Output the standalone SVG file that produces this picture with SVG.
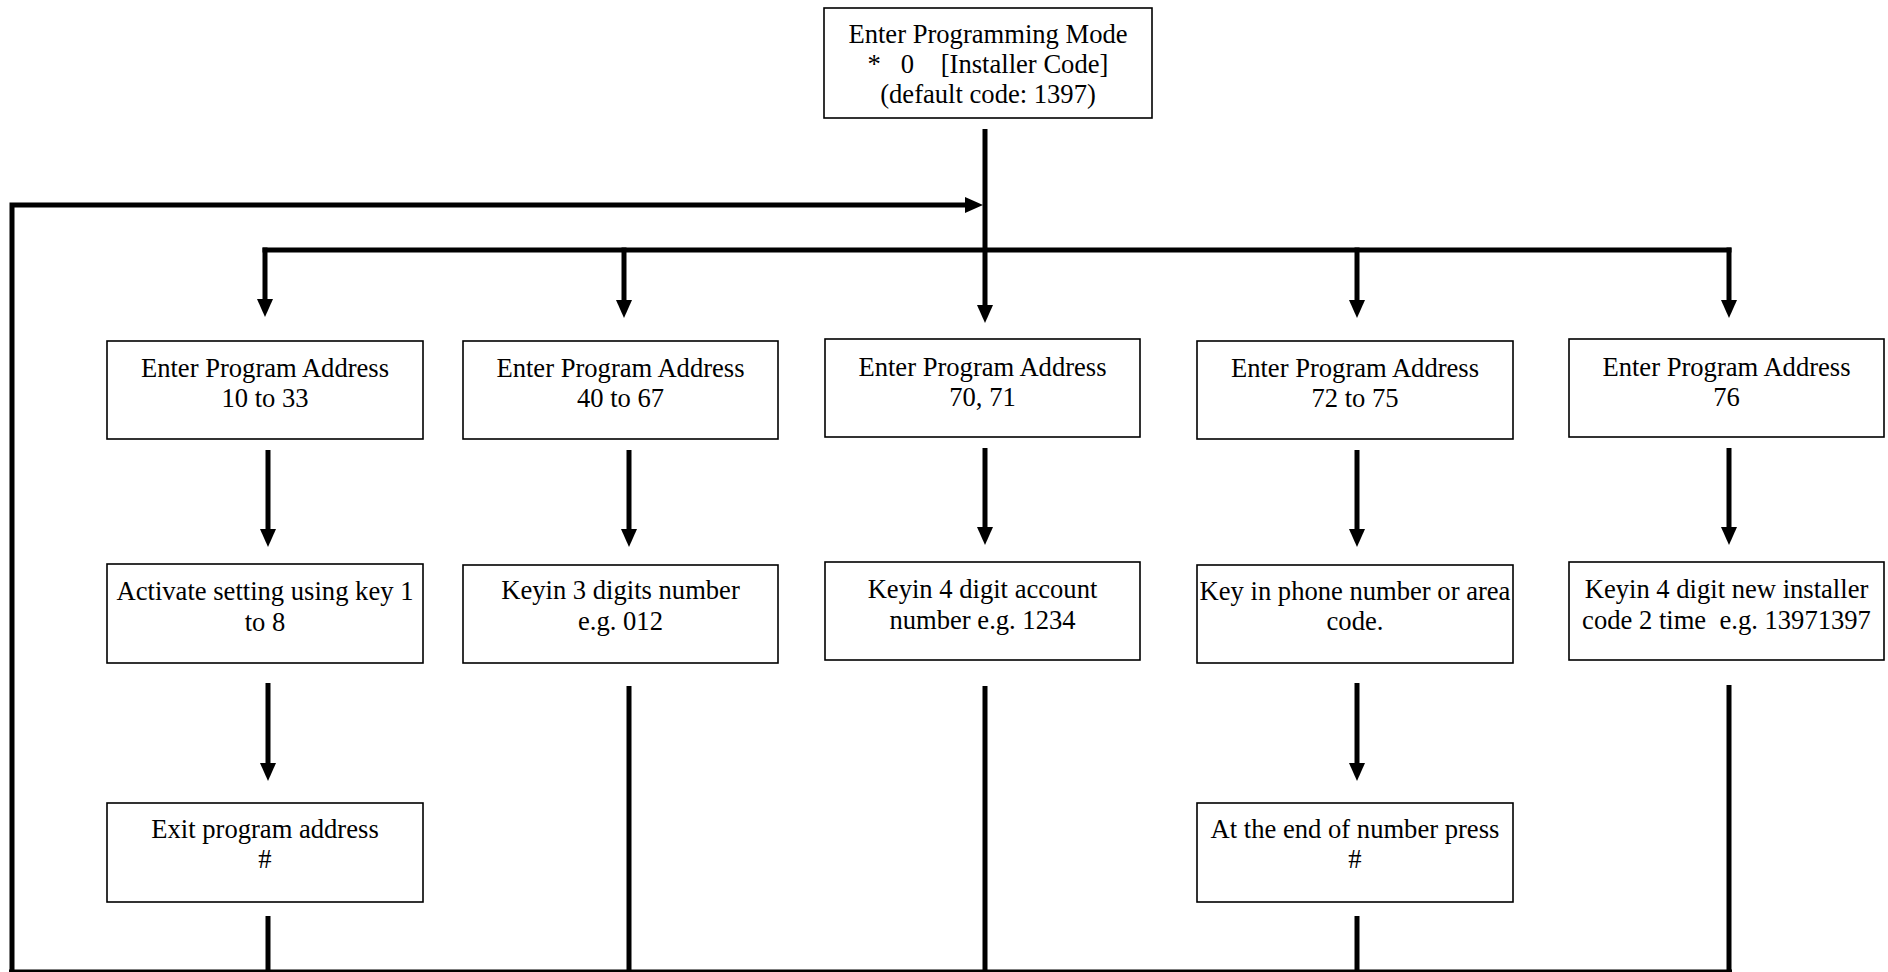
<svg xmlns="http://www.w3.org/2000/svg" width="1888" height="972" viewBox="0 0 1888 972">
<style>
.box{fill:#fff;stroke:#000;stroke-width:1.6}
.t{font-family:"Liberation Serif","Times New Roman",serif;font-size:26.6px;fill:#000;text-anchor:middle}
.ln{stroke:#000;stroke-width:5;fill:none}
</style>
<defs>
<marker id="ah" markerUnits="userSpaceOnUse" markerWidth="18" markerHeight="16" refX="0" refY="8" orient="auto" viewBox="0 0 18 16">
<path d="M0,0 L18,8 L0,16 Z" fill="#000"/>
</marker>
</defs>
<rect width="1888" height="972" fill="#fff"/>
<g id="connectors">
<line class="ln" x1="985" y1="129" x2="985" y2="305" marker-end="url(#ah)"/>
<polyline class="ln" points="12,972 12,205 965,205" marker-end="url(#ah)"/>
<line class="ln" x1="262.5" y1="250" x2="1731.5" y2="250"/>
<line class="ln" x1="265" y1="247.5" x2="265" y2="299" marker-end="url(#ah)"/>
<line class="ln" x1="624" y1="247.5" x2="624" y2="300" marker-end="url(#ah)"/>
<line class="ln" x1="1357" y1="247.5" x2="1357" y2="300" marker-end="url(#ah)"/>
<line class="ln" x1="1729" y1="247.5" x2="1729" y2="300" marker-end="url(#ah)"/>
<line class="ln" x1="268" y1="450" x2="268" y2="529" marker-end="url(#ah)"/>
<line class="ln" x1="629" y1="450" x2="629" y2="529" marker-end="url(#ah)"/>
<line class="ln" x1="985" y1="448" x2="985" y2="527" marker-end="url(#ah)"/>
<line class="ln" x1="1357" y1="450" x2="1357" y2="529" marker-end="url(#ah)"/>
<line class="ln" x1="1729" y1="448" x2="1729" y2="527" marker-end="url(#ah)"/>
<line class="ln" x1="268" y1="683" x2="268" y2="763" marker-end="url(#ah)"/>
<line class="ln" x1="1357" y1="683" x2="1357" y2="763" marker-end="url(#ah)"/>
<line class="ln" x1="629" y1="686" x2="629" y2="972"/>
<line class="ln" x1="985" y1="686" x2="985" y2="972"/>
<line class="ln" x1="1729" y1="685" x2="1729" y2="972"/>
<line class="ln" x1="268" y1="916" x2="268" y2="972"/>
<line class="ln" x1="1357" y1="916" x2="1357" y2="972"/>
<line class="ln" x1="9" y1="972" x2="1732" y2="972"/>
</g>
<g id="n-start">
<rect class="box" x="824" y="8" width="328" height="110"/>
<text class="t" x="988" y="43">Enter Programming Mode</text>
<text class="t" x="988" y="73" xml:space="preserve">*   0    [Installer Code]</text>
<text class="t" x="988" y="103">(default code: 1397)</text>
</g>
<g id="n-a1">
<rect class="box" x="107" y="341" width="316" height="98"/>
<text class="t" x="265" y="377">Enter Program Address</text>
<text class="t" x="265" y="407">10 to 33</text>
</g>
<g id="n-b1">
<rect class="box" x="463" y="341" width="315" height="98"/>
<text class="t" x="620.5" y="377">Enter Program Address</text>
<text class="t" x="620.5" y="407">40 to 67</text>
</g>
<g id="n-c1">
<rect class="box" x="825" y="339" width="315" height="98"/>
<text class="t" x="982.5" y="375.5">Enter Program Address</text>
<text class="t" x="982.5" y="405.5">70, 71</text>
</g>
<g id="n-d1">
<rect class="box" x="1197" y="341" width="316" height="98"/>
<text class="t" x="1355" y="377">Enter Program Address</text>
<text class="t" x="1355" y="407">72 to 75</text>
</g>
<g id="n-e1">
<rect class="box" x="1569" y="339" width="315" height="98"/>
<text class="t" x="1726.5" y="375.5">Enter Program Address</text>
<text class="t" x="1726.5" y="405.5">76</text>
</g>
<g id="n-a2">
<rect class="box" x="107" y="564" width="316" height="99"/>
<text class="t" x="265" y="600">Activate setting using key 1</text>
<text class="t" x="265" y="631">to 8</text>
</g>
<g id="n-b2">
<rect class="box" x="463" y="565" width="315" height="98"/>
<text class="t" x="620.5" y="599">Keyin 3 digits number</text>
<text class="t" x="620.5" y="630">e.g. 012</text>
</g>
<g id="n-c2">
<rect class="box" x="825" y="562" width="315" height="98"/>
<text class="t" x="982.5" y="598">Keyin 4 digit account</text>
<text class="t" x="982.5" y="629">number e.g. 1234</text>
</g>
<g id="n-d2">
<rect class="box" x="1197" y="565" width="316" height="98"/>
<text class="t" x="1355" y="600">Key in phone number or area</text>
<text class="t" x="1355" y="630">code.</text>
</g>
<g id="n-e2">
<rect class="box" x="1569" y="562" width="315" height="98"/>
<text class="t" x="1726.5" y="598">Keyin 4 digit new installer</text>
<text class="t" x="1726.5" y="629" xml:space="preserve">code 2 time  e.g. 13971397</text>
</g>
<g id="n-a3">
<rect class="box" x="107" y="803" width="316" height="99"/>
<text class="t" x="265" y="838">Exit program address</text>
<text class="t" x="265" y="868">#</text>
</g>
<g id="n-d3">
<rect class="box" x="1197" y="803" width="316" height="99"/>
<text class="t" x="1355" y="838">At the end of number press</text>
<text class="t" x="1355" y="868">#</text>
</g>
</svg>
